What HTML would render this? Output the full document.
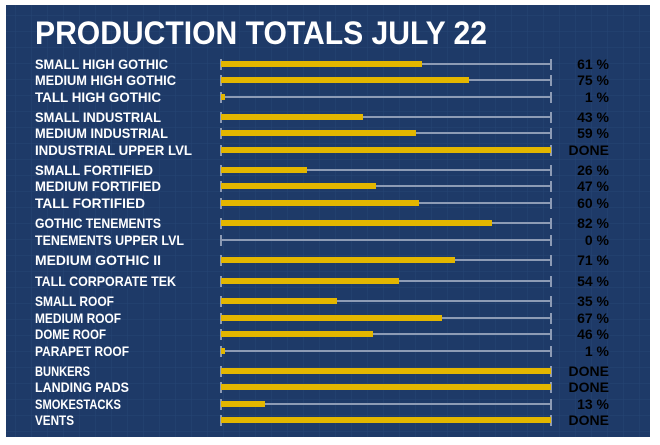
<!DOCTYPE html>
<html><head><meta charset="utf-8"><style>
html,body{margin:0;padding:0;background:#fff;width:660px;height:445px;overflow:hidden}
</style></head><body>
<svg width="660" height="445" xmlns="http://www.w3.org/2000/svg" xmlns:xlink="http://www.w3.org/1999/xlink" font-family="'Liberation Sans',sans-serif" font-weight="bold">
<defs>
<pattern id="g" width="16" height="16" patternUnits="userSpaceOnUse">
<path d="M16 0V16M0 16H16" stroke="#2c4c7e" stroke-width="1" fill="none"/>
</pattern>
<g id="t">
<line x1="220" y1="0" x2="551" y2="0" stroke="#8d9bb5" stroke-width="2"/>
<rect x="220" y="-5" width="2" height="11" fill="#8d9bb5"/>
<rect x="550" y="-5" width="2" height="11" fill="#8d9bb5"/>
</g>
</defs>
<rect x="0" y="0" width="660" height="445" fill="#fff"/>
<rect x="6" y="5" width="644" height="432" fill="#1e3a68"/>
<rect x="6" y="5" width="644" height="432" fill="url(#g)" opacity="0.6"/>
<text x="35" y="44" font-size="32" fill="#fff" textLength="452" lengthAdjust="spacingAndGlyphs">PRODUCTION TOTALS JULY 22</text>
<g font-size="14">
<g transform="translate(0,64)"><use xlink:href="#t"/><rect x="221" y="-3" width="201" height="6" fill="#e3b600"/><text x="35" y="5" fill="#fff" textLength="133" lengthAdjust="spacingAndGlyphs">SMALL HIGH GOTHIC</text><text x="609" y="5" text-anchor="end">61 %</text></g>
<g transform="translate(0,80)"><use xlink:href="#t"/><rect x="221" y="-3" width="248" height="6" fill="#e3b600"/><text x="35" y="5" fill="#fff" textLength="141" lengthAdjust="spacingAndGlyphs">MEDIUM HIGH GOTHIC</text><text x="609" y="5" text-anchor="end">75 %</text></g>
<g transform="translate(0,97)"><use xlink:href="#t"/><rect x="221" y="-3" width="4" height="6" fill="#e3b600"/><text x="35" y="5" fill="#fff" textLength="126" lengthAdjust="spacingAndGlyphs">TALL HIGH GOTHIC</text><text x="609" y="5" text-anchor="end">1 %</text></g>
<g transform="translate(0,117)"><use xlink:href="#t"/><rect x="221" y="-3" width="142" height="6" fill="#e3b600"/><text x="35" y="5" fill="#fff" textLength="126" lengthAdjust="spacingAndGlyphs">SMALL INDUSTRIAL</text><text x="609" y="5" text-anchor="end">43 %</text></g>
<g transform="translate(0,133)"><use xlink:href="#t"/><rect x="221" y="-3" width="195" height="6" fill="#e3b600"/><text x="35" y="5" fill="#fff" textLength="133" lengthAdjust="spacingAndGlyphs">MEDIUM INDUSTRIAL</text><text x="609" y="5" text-anchor="end">59 %</text></g>
<g transform="translate(0,150)"><use xlink:href="#t"/><rect x="221" y="-3" width="330" height="6" fill="#e3b600"/><text x="35" y="5" fill="#fff" textLength="157" lengthAdjust="spacingAndGlyphs">INDUSTRIAL UPPER LVL</text><text x="609" y="5" text-anchor="end">DONE</text></g>
<g transform="translate(0,170)"><use xlink:href="#t"/><rect x="221" y="-3" width="86" height="6" fill="#e3b600"/><text x="35" y="5" fill="#fff" textLength="118" lengthAdjust="spacingAndGlyphs">SMALL FORTIFIED</text><text x="609" y="5" text-anchor="end">26 %</text></g>
<g transform="translate(0,186)"><use xlink:href="#t"/><rect x="221" y="-3" width="155" height="6" fill="#e3b600"/><text x="35" y="5" fill="#fff" textLength="126" lengthAdjust="spacingAndGlyphs">MEDIUM FORTIFIED</text><text x="609" y="5" text-anchor="end">47 %</text></g>
<g transform="translate(0,203)"><use xlink:href="#t"/><rect x="221" y="-3" width="198" height="6" fill="#e3b600"/><text x="35" y="5" fill="#fff" textLength="110" lengthAdjust="spacingAndGlyphs">TALL FORTIFIED</text><text x="609" y="5" text-anchor="end">60 %</text></g>
<g transform="translate(0,223)"><use xlink:href="#t"/><rect x="221" y="-3" width="271" height="6" fill="#e3b600"/><text x="35" y="5" fill="#fff" textLength="126" lengthAdjust="spacingAndGlyphs">GOTHIC TENEMENTS</text><text x="609" y="5" text-anchor="end">82 %</text></g>
<g transform="translate(0,240)"><use xlink:href="#t"/><text x="35" y="5" fill="#fff" textLength="149" lengthAdjust="spacingAndGlyphs">TENEMENTS UPPER LVL</text><text x="609" y="5" text-anchor="end">0 %</text></g>
<g transform="translate(0,260)"><use xlink:href="#t"/><rect x="221" y="-3" width="234" height="6" fill="#e3b600"/><text x="35" y="5" fill="#fff" textLength="126" lengthAdjust="spacingAndGlyphs">MEDIUM GOTHIC II</text><text x="609" y="5" text-anchor="end">71 %</text></g>
<g transform="translate(0,281)"><use xlink:href="#t"/><rect x="221" y="-3" width="178" height="6" fill="#e3b600"/><text x="35" y="5" fill="#fff" textLength="141" lengthAdjust="spacingAndGlyphs">TALL CORPORATE TEK</text><text x="609" y="5" text-anchor="end">54 %</text></g>
<g transform="translate(0,301)"><use xlink:href="#t"/><rect x="221" y="-3" width="116" height="6" fill="#e3b600"/><text x="35" y="5" fill="#fff" textLength="79" lengthAdjust="spacingAndGlyphs">SMALL ROOF</text><text x="609" y="5" text-anchor="end">35 %</text></g>
<g transform="translate(0,318)"><use xlink:href="#t"/><rect x="221" y="-3" width="221" height="6" fill="#e3b600"/><text x="35" y="5" fill="#fff" textLength="86" lengthAdjust="spacingAndGlyphs">MEDIUM ROOF</text><text x="609" y="5" text-anchor="end">67 %</text></g>
<g transform="translate(0,334)"><use xlink:href="#t"/><rect x="221" y="-3" width="152" height="6" fill="#e3b600"/><text x="35" y="5" fill="#fff" textLength="71" lengthAdjust="spacingAndGlyphs">DOME ROOF</text><text x="609" y="5" text-anchor="end">46 %</text></g>
<g transform="translate(0,351)"><use xlink:href="#t"/><rect x="221" y="-3" width="4" height="6" fill="#e3b600"/><text x="35" y="5" fill="#fff" textLength="94" lengthAdjust="spacingAndGlyphs">PARAPET ROOF</text><text x="609" y="5" text-anchor="end">1 %</text></g>
<g transform="translate(0,371)"><use xlink:href="#t"/><rect x="221" y="-3" width="330" height="6" fill="#e3b600"/><text x="35" y="5" fill="#fff" textLength="55" lengthAdjust="spacingAndGlyphs">BUNKERS</text><text x="609" y="5" text-anchor="end">DONE</text></g>
<g transform="translate(0,387)"><use xlink:href="#t"/><rect x="221" y="-3" width="330" height="6" fill="#e3b600"/><text x="35" y="5" fill="#fff" textLength="94" lengthAdjust="spacingAndGlyphs">LANDING PADS</text><text x="609" y="5" text-anchor="end">DONE</text></g>
<g transform="translate(0,404)"><use xlink:href="#t"/><rect x="221" y="-3" width="44" height="6" fill="#e3b600"/><text x="35" y="5" fill="#fff" textLength="86" lengthAdjust="spacingAndGlyphs">SMOKESTACKS</text><text x="609" y="5" text-anchor="end">13 %</text></g>
<g transform="translate(0,420)"><use xlink:href="#t"/><rect x="221" y="-3" width="330" height="6" fill="#e3b600"/><text x="35" y="5" fill="#fff" textLength="39" lengthAdjust="spacingAndGlyphs">VENTS</text><text x="609" y="5" text-anchor="end">DONE</text></g>
</g>
</svg>
</body></html>
